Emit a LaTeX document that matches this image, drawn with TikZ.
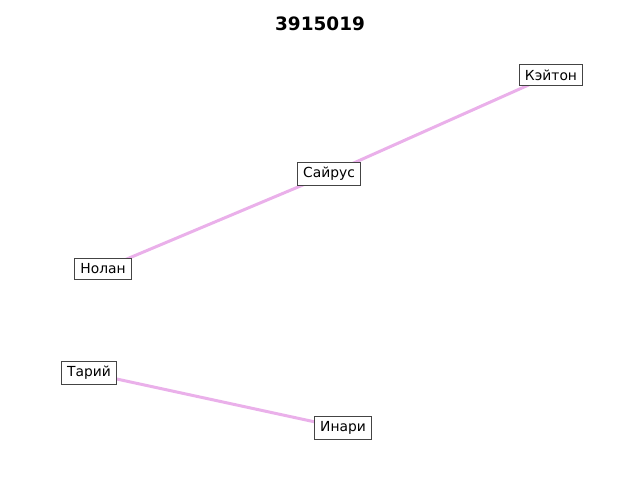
\documentclass[tikz,border=0pt]{standalone}
\usepackage{fontspec}
\setmainfont{DejaVu Sans}
\usetikzlibrary{backgrounds}
\definecolor{edgec}{HTML}{EAB0EA}
\definecolor{boxc}{HTML}{444444}
\begin{document}
\begin{tikzpicture}[x=1bp,y=-1bp,
  lbl/.style={draw=boxc,fill=white,line width=1bp,inner xsep=5.5bp,inner ysep=5bp,font=\fontsize{13.9}{16}\selectfont},
  edge/.style={draw=edgec,line width=3bp}]
\useasboundingbox (0,0) rectangle (640,480);
\node[font=\fontsize{18.5}{22}\selectfont\bfseries] (title) at (320,24) {3915019};
\node[lbl] (k) at (551,75) {Кэйтон};
\node[lbl] (s) at (329,174) {Сайрус};
\node[lbl] (n) at (103,269) {Нолан};
\node[lbl] (t) at (89,373) {Тарий};
\node[lbl] (i) at (343,428) {Инари};
\begin{scope}[on background layer]
\draw[edge] (n.center) -- (s.center);
\draw[edge] (s.center) -- (k.center);
\draw[edge] (t.center) -- (i.center);
\end{scope}
\end{tikzpicture}
\end{document}
